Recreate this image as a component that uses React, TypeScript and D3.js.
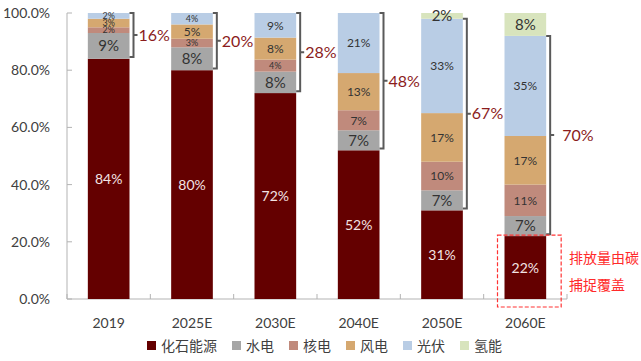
import React, { useEffect, useRef } from 'react';
import * as d3 from 'd3';

// categories and series (share of primary energy, %)
const years = ['2019', '2025E', '2030E', '2040E', '2050E', '2060E'];
const seriesNames = ['化石能源', '水电', '核电', '风电', '光伏', '氢能'];
const fossil = [84, 80, 72, 52, 31, 22];
const hydro = [9, 8, 7.5, 7, 7, 7];
const nuclear = [2, 3, 4.2, 7, 10, 11];
const wind = [3, 5, 7.7, 13, 17, 17];
const solar = [2, 4, 8.6, 21, 33, 35];
const hydrogen = [0, 0, 0, 0, 2, 8];
const bracketLabels = ['16%', '20%', '28%', '48%', '67%', '70%'];
const yTicks = [0, 0.2, 0.4, 0.6, 0.8, 1.0];
const noteLines = ['排放量由碳', '捕捉覆盖'];

const colors = ['#640000', '#a6a6a6', '#c08a7c', '#d5a870', '#b9cde5', '#d8e4bd'];
const FONT = "Lato, 'Noto Sans CJK SC', sans-serif";

const App = () => {
    const svgRef = useRef(null);

    useEffect(() => {
        drawChart();
    }, []);

    const drawChart = () => {
        const svg = d3.select(svgRef.current);
        svg.selectAll('*').remove();

        const left = 67, right = 567, top = 13, bottom = 299;

        const x = d3.scaleBand().domain(years).range([left, right]).paddingInner(0.5).paddingOuter(0.25);
        const y = d3.scaleLinear().domain([0, 1]).range([bottom, top]);

        const rows = years.map((yr, i) => ({
            year: yr,
            s0: fossil[i], s1: hydro[i], s2: nuclear[i], s3: wind[i], s4: solar[i], s5: hydrogen[i],
        }));
        const stack = d3.stack().keys(['s0', 's1', 's2', 's3', 's4', 's5'])(rows as any);

        // axes
        const axisColor = '#b3b3b3';
        svg.append('line').attr('x1', left).attr('x2', left).attr('y1', top).attr('y2', bottom)
            .attr('stroke', axisColor).attr('stroke-width', 1);
        yTicks.forEach(t => {
            svg.append('line').attr('x1', left).attr('x2', left + 5).attr('y1', y(t)).attr('y2', y(t))
                .attr('stroke', axisColor);
            svg.append('text').attr('x', 50).attr('y', y(t)).attr('dy', '0.35em')
                .attr('text-anchor', 'end').attr('font-size', 14).attr('fill', '#404040')
                .attr('font-family', FONT).text(d3.format('.1%')(t));
        });

        const step = x.step();
        svg.append('line').attr('x1', left).attr('x2', right).attr('y1', bottom).attr('y2', bottom)
            .attr('stroke', axisColor);
        d3.range(years.length + 1).forEach(k => {
            const xx = left + k * step;
            svg.append('line').attr('x1', xx).attr('x2', xx).attr('y1', bottom - 5).attr('y2', bottom)
                .attr('stroke', axisColor);
        });
        years.forEach(yr => {
            svg.append('text').attr('x', x(yr)! + x.bandwidth() / 2).attr('y', 323).attr('dy', '0.35em')
                .attr('text-anchor', 'middle').attr('font-size', 14).attr('fill', '#404040')
                .attr('font-family', FONT).text(yr);
        });

        // bars
        stack.forEach((layer, si) => {
            layer.forEach((d: any) => {
                const v = d[1] - d[0];
                if (v <= 0) return;
                svg.append('rect')
                    .attr('x', x(d.data.year)!)
                    .attr('width', x.bandwidth())
                    .attr('y', y(d[1] / 100))
                    .attr('height', y(d[0] / 100) - y(d[1] / 100))
                    .attr('fill', colors[si]);
            });
        });

        // segment labels
        stack.forEach((layer, si) => {
            layer.forEach((d: any) => {
                const v = d[1] - d[0];
                if (v <= 0) return;
                let size = 12;
                if (si === 0) size = 14;
                else if (si === 1 || si === 5) size = 15;
                if (v < 4.5 && si > 1 && si < 5) size = 9;
                svg.append('text')
                    .attr('x', x(d.data.year)! + x.bandwidth() / 2)
                    .attr('y', y((d[0] + d[1]) / 200))
                    .attr('dy', '0.36em')
                    .attr('text-anchor', 'middle')
                    .attr('font-size', size)
                    .attr('font-family', FONT)
                    .attr('fill', si === 0 ? '#f3e3e3' : '#333333')
                    .text(Math.round(v) + '%');
            });
        });

        // brackets
        years.forEach((yr, i) => {
            const bx = x(yr)! + x.bandwidth() + 4;
            const y1 = y((fossil[i] + 0.6) / 100);
            const topVal = fossil[i] + hydro[i] + nuclear[i] + wind[i] + solar[i];
            const y0 = y(Math.min(topVal, 100) / 100);
            const mid = (y0 + y1) / 2;
            svg.append('path')
                .attr('d', `M${bx - 4},${y0} H${bx} V${y1} H${bx - 4} M${bx},${mid} H${bx + 4}`)
                .attr('fill', 'none').attr('stroke', '#5a5a5a').attr('stroke-width', 2);
            svg.append('text').attr('x', bx + (i === 5 ? 12 : 5)).attr('y', mid).attr('dy', '0.36em')
                .attr('font-size', 16).attr('font-family', FONT).attr('fill', '#8b1c1c')
                .text(bracketLabels[i]);
        });

        // red dashed note box
        const last = years[years.length - 1];
        svg.append('rect')
            .attr('x', x(last)! - 7).attr('y', y(fossil[5] / 100) - 1)
            .attr('width', x.bandwidth() + 22).attr('height', bottom + 8 - y(fossil[5] / 100) + 1)
            .attr('fill', 'none').attr('stroke', '#ff3333').attr('stroke-width', 1.2)
            .attr('stroke-dasharray', '4,2');
        noteLines.forEach((t, k) => {
            svg.append('text').attr('x', 569).attr('y', 258 + k * 27).attr('dy', '0.36em')
                .attr('font-size', 14).attr('font-family', FONT).attr('fill', '#ff2a2a').text(t);
        });

        // legend
        let lx = 147;
        seriesNames.forEach((name, k) => {
            svg.append('rect').attr('x', lx).attr('y', 341).attr('width', 9).attr('height', 9)
                .attr('fill', colors[k]);
            svg.append('text').attr('x', lx + 14).attr('y', 345.5).attr('dy', '0.36em')
                .attr('font-size', 14).attr('font-family', FONT).attr('fill', '#404040').text(name);
            lx += 14 + name.length * 14 + 15;
        });
    };

    return (
        <svg ref={svgRef} width={641} height={361}
            style={{ position: 'absolute', left: 0, top: 0, background: '#fff' }}></svg>
    );
};

export default App;
